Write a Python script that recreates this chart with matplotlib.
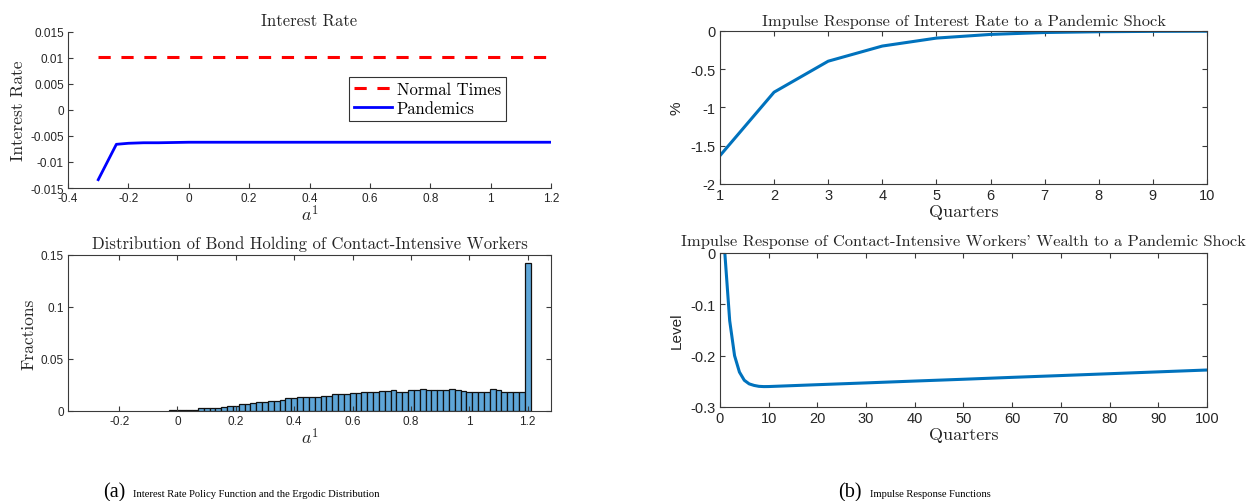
import numpy as np
import matplotlib
matplotlib.use("Agg")
import matplotlib.pyplot as plt

plt.rcParams['mathtext.fontset'] = 'cm'
plt.rcParams['font.family'] = ['Liberation Sans', 'DejaVu Sans']

# ---- data ----
# policy function (a^1 grid vs. interest rate)
a_normal = [-0.3, 1.2]
r_normal = [0.0102, 0.0102]
a_pand = [-0.3, -0.24, -0.2, -0.15, -0.1, 0.0, 0.2, 0.6, 1.2]
r_pand = [-0.0134, -0.0066, -0.0064, -0.0063, -0.0063, -0.0062, -0.0062, -0.0062, -0.0062]

# ergodic distribution of bond holding (bins of width 0.02)
hist_edges_start = -0.03
hist_bin_width = 0.02
hist_frac = [
    0.0008, 0.001, 0.001, 0.001, 0.001,
    0.0026, 0.0026, 0.0032, 0.0032, 0.0042,
    0.0052, 0.0052, 0.0065, 0.0065, 0.0074,
    0.0087, 0.0087, 0.0097, 0.0097, 0.011,
    0.0123, 0.0123, 0.013, 0.013, 0.0139, 0.0139,
    0.0148, 0.0148, 0.0161, 0.0161, 0.0161,
    0.0171, 0.0171, 0.018, 0.018, 0.018,
    0.0194, 0.0194, 0.0206, 0.0184, 0.0184,
    0.0203, 0.0203, 0.0213, 0.0203, 0.0203, 0.0203, 0.0203,
    0.0213, 0.0203, 0.0194, 0.018, 0.018, 0.018, 0.018,
    0.0213, 0.0203, 0.018, 0.018, 0.018, 0.018,
    0.142,
]

# IRF of interest rate (%)
q_rate = [1, 2, 3, 4, 5, 6, 7, 8, 9, 10]
irf_rate = [-1.63, -0.80, -0.395, -0.197, -0.093, -0.045, -0.02, -0.01, -0.005, -0.003]

# IRF of contact-intensive workers' wealth (level)
q_wealth = [1, 2, 3, 4, 5, 6, 7, 8, 9, 10, 20, 30, 40, 50, 60, 70, 80, 90, 100]
irf_wealth = [0.0, -0.132, -0.200, -0.232, -0.248, -0.255, -0.258, -0.2598, -0.2603, -0.2602,
              -0.2566, -0.2531, -0.2495, -0.2460, -0.2423, -0.2388, -0.2352, -0.2316, -0.2280]

MBLUE = '#0072BD'
SPINE = '#3a3a3a'
TXT = '#262626'
SERIF = 'cmr10'

fig = plt.figure(figsize=(12.51, 5.02), dpi=100, facecolor='white')

def style(ax, box=True, fs=8.5):
    for s in ax.spines.values():
        s.set_color(SPINE)
        s.set_linewidth(0.8)
    if not box:
        ax.spines['top'].set_visible(False)
        ax.spines['right'].set_visible(False)
    ax.tick_params(direction='in', length=3.5, width=0.8, color=SPINE,
                   labelcolor=TXT, labelsize=fs, top=box, right=box, pad=3)

# top-left: interest rate policy function
ax1 = fig.add_axes([0.0544, 0.6235, 0.3861, 0.3108])
ax1.plot(a_normal, r_normal, color='#FF0000', ls='--', lw=2.2, dashes=(4, 3.5), label='Normal Times')
ax1.plot(a_pand, r_pand, color='#0000FF', lw=2.0, label='Pandemics')
ax1.set_xlim(-0.4, 1.2)
ax1.set_ylim(-0.015, 0.015)
xt1 = [-0.4, -0.2, 0, 0.2, 0.4, 0.6, 0.8, 1, 1.2]
ax1.set_xticks(xt1)
ax1.set_xticklabels(['-0.4', '-0.2', '0', '0.2', '0.4', '0.6', '0.8', '1', '1.2'])
yt1 = [-0.015, -0.01, -0.005, 0, 0.005, 0.01, 0.015]
ax1.set_yticks(yt1)
ax1.set_yticklabels(['-0.015', '-0.01', '-0.005', '0', '0.005', '0.01', '0.015'])
style(ax1, box=False)
ax1.set_title('Interest Rate', fontfamily=SERIF, fontsize=12, color=TXT, pad=5)
ax1.set_xlabel(r'$a^1$', fontsize=13, color=TXT, labelpad=0)
ax1.set_ylabel('Interest Rate', fontfamily=SERIF, fontsize=12.5, color=TXT, labelpad=3)
leg = ax1.legend(loc='upper right', bbox_to_anchor=(0.907, 0.712), prop={'family': SERIF, 'size': 12},
                 frameon=True, fancybox=False, edgecolor='#000000', handlelength=2.3,
                 borderpad=0.3, labelspacing=0.2, handletextpad=0.3, borderaxespad=0)
leg.get_frame().set_linewidth(0.8)

# bottom-left: distribution of bond holding
ax2 = fig.add_axes([0.0544, 0.1793, 0.3861, 0.3108])
edges = hist_edges_start + hist_bin_width * np.arange(len(hist_frac) + 1)
ax2.bar(edges[:-1], hist_frac, width=hist_bin_width, align='edge', color='#5EA6D8',
        edgecolor='#111111', linewidth=0.9)
ax2.set_xlim(-0.375, 1.28)
ax2.set_ylim(0, 0.15)
ax2.set_xticks([-0.2, 0, 0.2, 0.4, 0.6, 0.8, 1, 1.2])
ax2.set_xticklabels(['-0.2', '0', '0.2', '0.4', '0.6', '0.8', '1', '1.2'])
ax2.set_yticks([0, 0.05, 0.1, 0.15])
ax2.set_yticklabels(['0', '0.05', '0.1', '0.15'])
style(ax2, box=True)
ax2.set_title('Distribution of Bond Holding of Contact-Intensive Workers', fontfamily=SERIF,
              fontsize=12, color=TXT, pad=5)
ax2.set_xlabel(r'$a^1$', fontsize=13, color=TXT, labelpad=0)
ax2.set_ylabel('Fractions', fontfamily=SERIF, fontsize=12.5, color=TXT, labelpad=3)

# top-right: IRF of interest rate
ax3 = fig.add_axes([0.5755, 0.6315, 0.3893, 0.3048])
ax3.plot(q_rate, irf_rate, color=MBLUE, lw=2.2)
ax3.set_xlim(1, 10)
ax3.set_ylim(-2, 0)
ax3.set_xticks(q_rate)
ax3.set_yticks([-2, -1.5, -1, -0.5, 0])
ax3.set_yticklabels(['-2', '-1.5', '-1', '-0.5', '0'])
style(ax3, box=True, fs=10.5)
ax3.set_title('Impulse Response of Interest Rate to a Pandemic Shock', fontfamily=SERIF,
              fontsize=11.8, color=TXT, pad=4)
ax3.set_xlabel('Quarters', fontfamily=SERIF, fontsize=13, color=TXT, labelpad=1)
ax3.set_ylabel('%', fontsize=11, color=TXT, labelpad=5)

# bottom-right: IRF of wealth
ax4 = fig.add_axes([0.5755, 0.1873, 0.3893, 0.3068])
ax4.plot(q_wealth, irf_wealth, color=MBLUE, lw=2.2)
ax4.set_xlim(0, 100)
ax4.set_ylim(-0.3, 0)
ax4.set_xticks(np.arange(0, 101, 10))
ax4.set_yticks([-0.3, -0.2, -0.1, 0])
ax4.set_yticklabels(['-0.3', '-0.2', '-0.1', '0'])
style(ax4, box=True, fs=10.5)
ax4.set_title("Impulse Response of Contact-Intensive Workers' Wealth to a Pandemic Shock",
              fontfamily=SERIF, fontsize=11.8, color=TXT, pad=6)
ax4.set_xlabel('Quarters', fontfamily=SERIF, fontsize=13, color=TXT, labelpad=1)
ax4.set_ylabel('Level', fontsize=11, color=TXT, labelpad=5)

# sub-captions
fig.text(103 / 1251, 1 - 497 / 502, '(a)', fontfamily='Liberation Serif', fontsize=14.5,
         color='#000000', va='baseline')
fig.text(133 / 1251, 1 - 497 / 502, 'Interest Rate Policy Function and the Ergodic Distribution',
         fontfamily='Liberation Serif', fontsize=7.6, color='#000000', va='baseline')
fig.text(838 / 1251, 1 - 497 / 502, '(b)', fontfamily='Liberation Serif', fontsize=14.5,
         color='#000000', va='baseline')
fig.text(870 / 1251, 1 - 497 / 502, 'Impulse Response Functions',
         fontfamily='Liberation Serif', fontsize=7.6, color='#000000', va='baseline')

fig.savefig('out.png', dpi=100, facecolor='white')
